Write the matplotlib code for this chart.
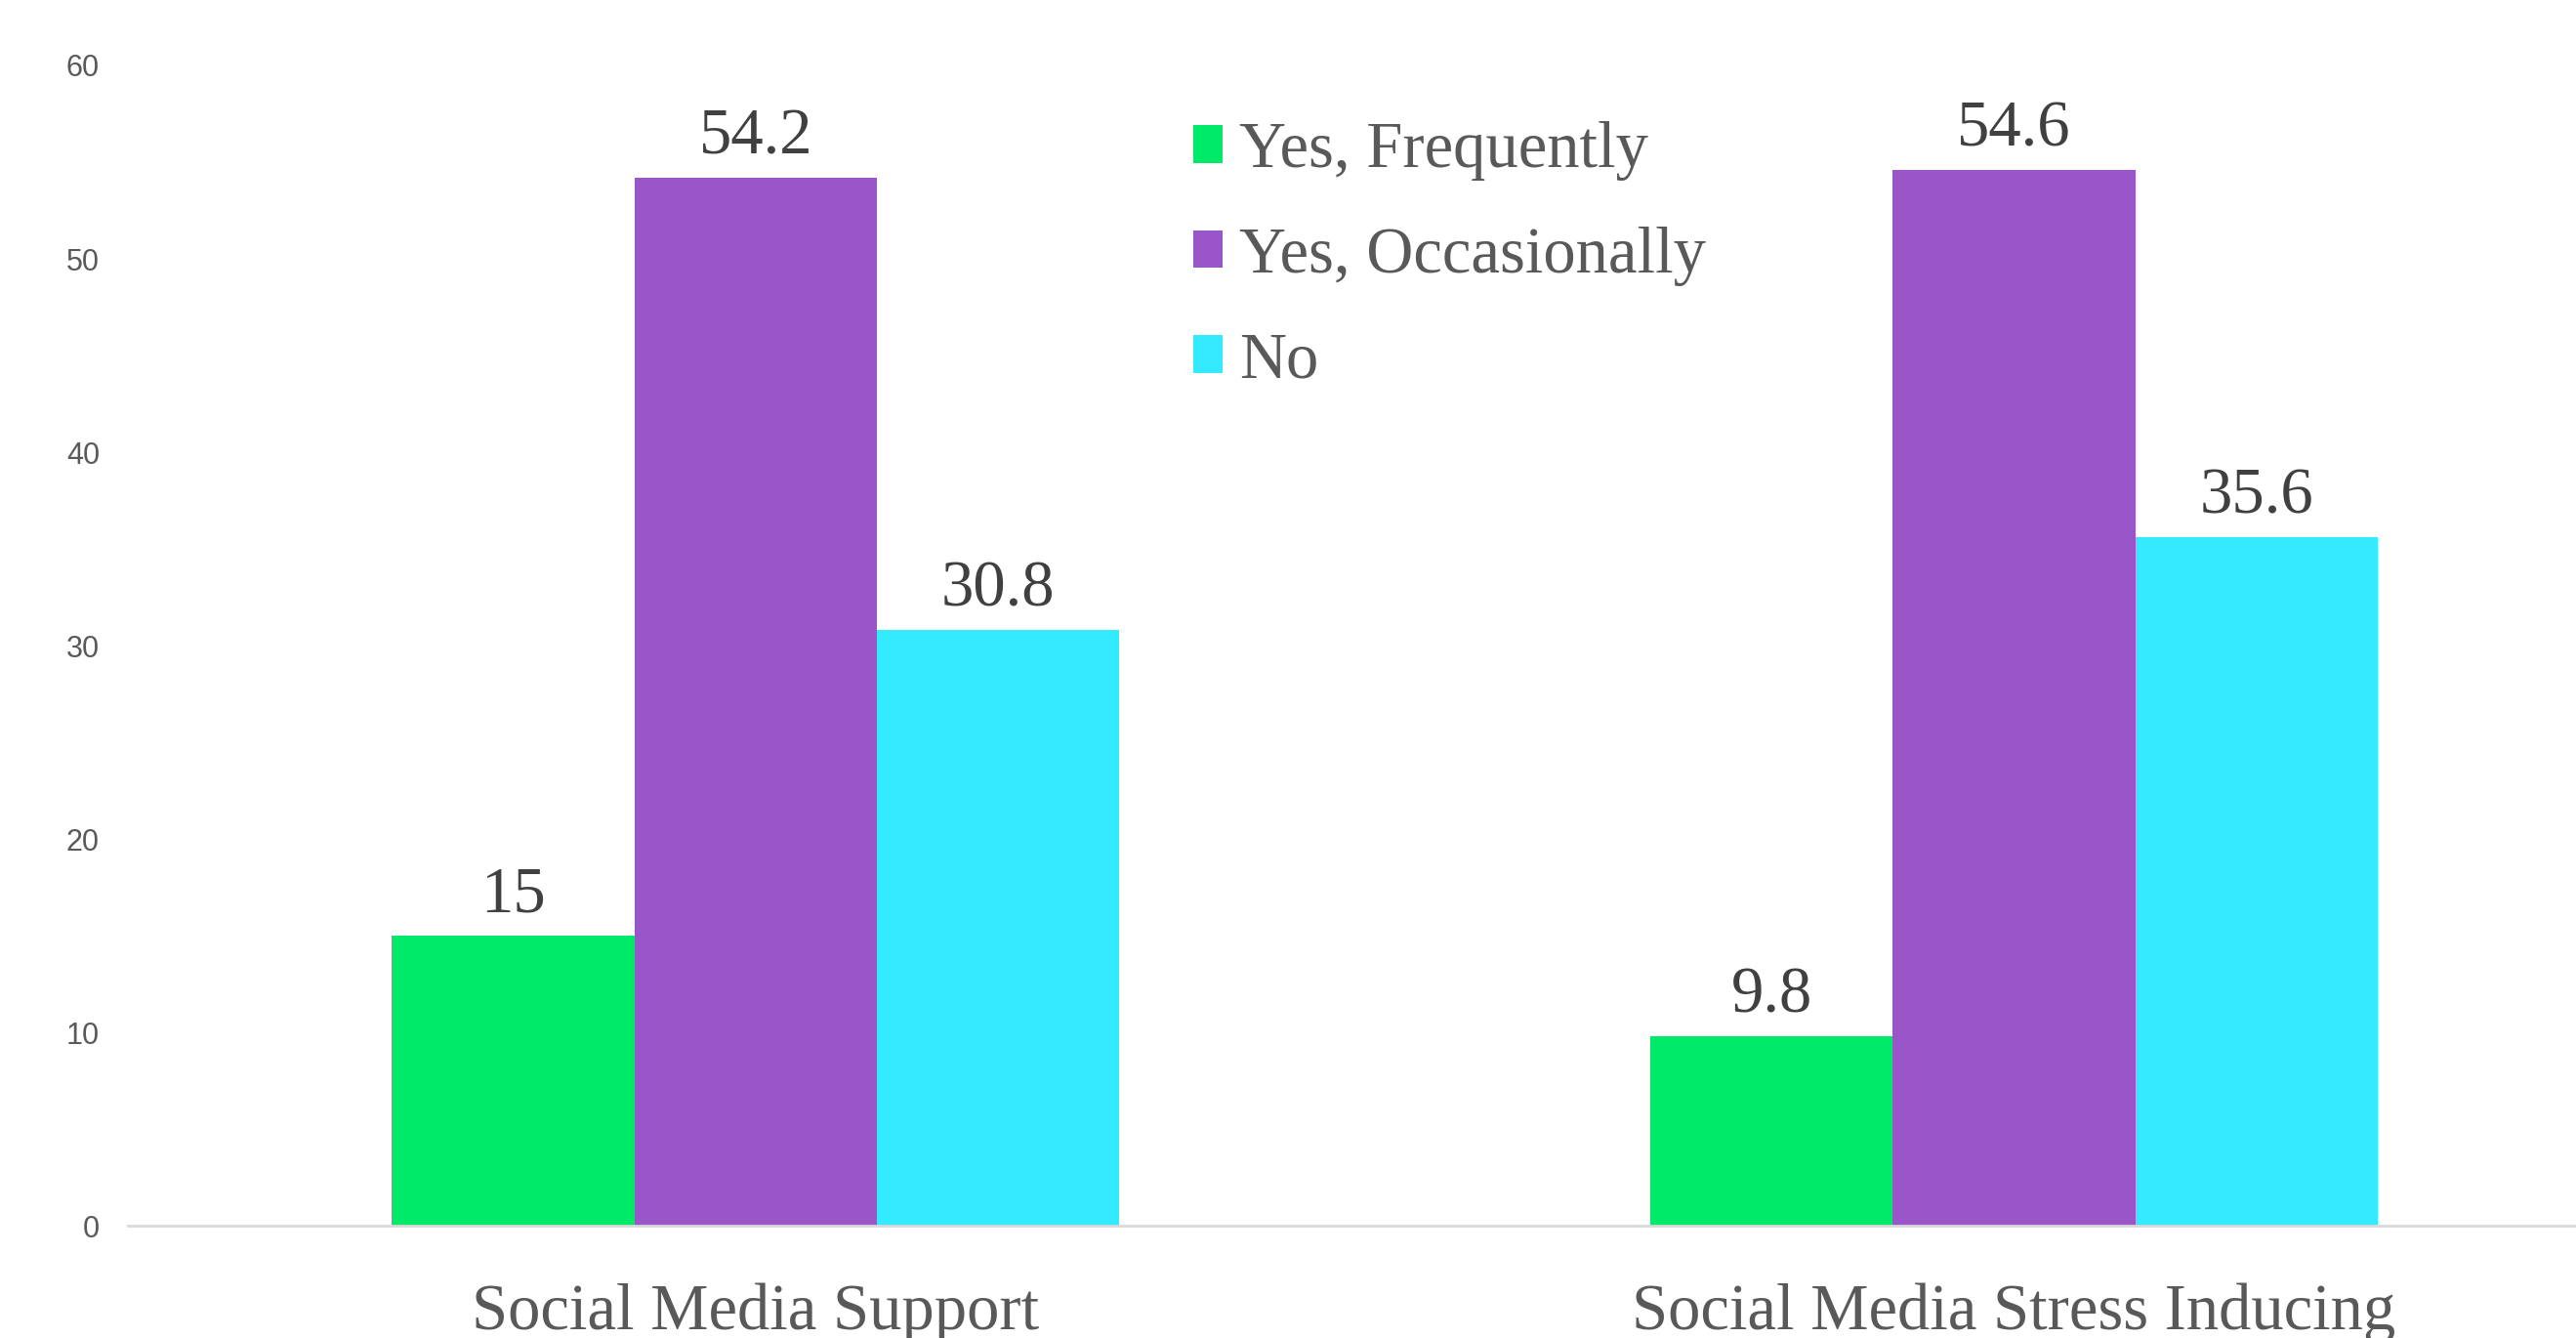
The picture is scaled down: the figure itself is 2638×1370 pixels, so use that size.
import numpy as np
import matplotlib.pyplot as plt

categories = ["Social Media Support", "Social Media Stress Inducing"]
series_names = ["Yes, Frequently", "Yes, Occasionally", "No"]
frequently = [15, 9.8]
occasionally = [54.2, 54.6]
no = [30.8, 35.6]
yticks = [0, 10, 20, 30, 40, 50, 60]

colors = ["#00EA6A", "#9A55C9", "#33EAFF"]
text_gray = "#595959"
serif = ["Liberation Serif", "DejaVu Serif"]

fig = plt.figure(figsize=(26.38, 13.70), dpi=100)
ax = fig.add_axes([0.0497, 0.0839, 0.9503, 0.8672])

x = np.arange(len(categories))
width = 0.1926
values = [frequently, occasionally, no]
for i, (name, vals) in enumerate(zip(series_names, values)):
    bars = ax.bar(x + (i - 1) * width, vals, width, color=colors[i], label=name)
    ax.bar_label(bars, labels=[f"{v:g}" for v in vals], padding=7.5,
                 fontsize=48, color="#404040", family=serif)

ax.set_xlim(-0.4987, 1.4465)
ax.set_ylim(0, 60)
ax.set_yticks(yticks)
ax.set_xticks(x)
ax.set_xticklabels(categories, fontsize=48, color=text_gray, family=serif)
ax.tick_params(axis="x", length=0, pad=42)
ax.tick_params(axis="y", length=0, pad=21, labelsize=22, labelcolor=text_gray)
for lbl in ax.get_yticklabels():
    lbl.set_family(["Liberation Sans", "DejaVu Sans"])

for side in ["top", "right", "left"]:
    ax.spines[side].set_visible(False)
ax.spines["bottom"].set_color("#D9D9D9")
ax.spines["bottom"].set_linewidth(2)

fig.legend(loc="upper left", bbox_to_anchor=(1222 / 2638, 1 - 124 / 1370),
           frameon=False, borderpad=0, borderaxespad=0,
           handlelength=0.45, handleheight=0.51, handletextpad=0.25,
           labelspacing=0.7, labelcolor=text_gray,
           prop={"family": serif, "size": 48})

fig.savefig("out.png", dpi=100, facecolor="white")
